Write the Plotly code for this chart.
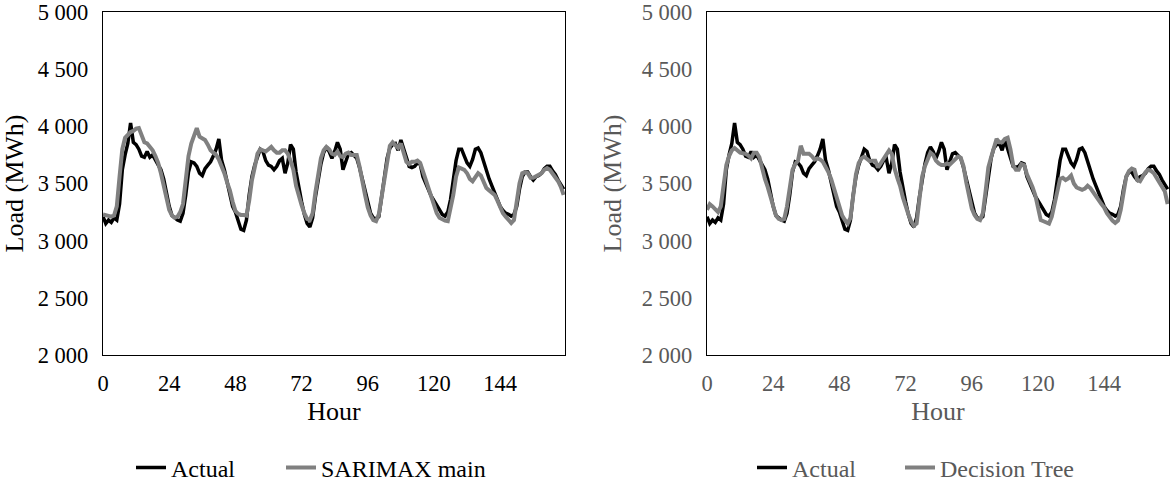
import plotly.graph_objects as go

hours = list(range(168))

actual = [
    3210, 3150, 3180, 3160, 3200, 3180, 3320, 3620, 3750, 3850,
    4030, 3860, 3840, 3800, 3740, 3730, 3780, 3730, 3750, 3710,
    3670, 3620, 3540, 3400, 3300, 3220, 3200, 3180, 3170, 3240,
    3400, 3600, 3690, 3680, 3650, 3590, 3570, 3630, 3660, 3690,
    3740, 3800, 3890, 3700, 3620, 3510, 3420, 3300, 3250, 3170,
    3100, 3090, 3180, 3400, 3560, 3660, 3740, 3800, 3780, 3700,
    3660, 3650, 3620, 3650, 3700, 3720, 3590, 3680, 3840, 3800,
    3600, 3450, 3340, 3230, 3150, 3120, 3200, 3380, 3540, 3670,
    3770, 3820, 3780, 3720, 3780, 3860, 3800, 3620, 3690, 3760,
    3770, 3740, 3720, 3640, 3540, 3440, 3320, 3240, 3200, 3190,
    3210, 3380, 3580, 3720, 3810, 3840, 3850, 3790, 3880, 3800,
    3720, 3650, 3640, 3650, 3680, 3670, 3560, 3500, 3450, 3390,
    3350, 3310, 3260, 3230, 3215, 3250, 3360, 3520, 3700, 3800,
    3800, 3740, 3680, 3650, 3710, 3800, 3810, 3770, 3690, 3610,
    3540, 3480, 3420, 3360, 3300, 3265, 3240, 3230, 3215, 3230,
    3300, 3450, 3560, 3600, 3600, 3560, 3530, 3560, 3570, 3590,
    3630, 3650, 3650, 3610, 3580, 3530, 3490, 3450,
]

sarimax_main = [
    3230, 3225, 3215, 3210, 3220, 3300, 3560, 3800, 3900, 3930,
    3950, 3960, 3980, 3985, 3920, 3860, 3850, 3820, 3790, 3740,
    3680, 3590, 3480, 3380, 3270, 3220, 3200, 3210, 3250, 3320,
    3540, 3740, 3850, 3910, 3985, 3910, 3890, 3880, 3840, 3790,
    3770, 3750, 3710, 3660, 3590, 3510, 3440, 3340, 3260, 3235,
    3225, 3225, 3220, 3350, 3530, 3640, 3760, 3800, 3790, 3780,
    3800, 3820, 3790, 3770, 3770, 3790, 3790, 3760, 3700, 3620,
    3480, 3380, 3310, 3240, 3190, 3180, 3240, 3420, 3590, 3720,
    3790, 3820, 3800, 3760, 3750, 3780, 3740, 3730, 3760, 3770,
    3750, 3750, 3750, 3650, 3500, 3400, 3290, 3220, 3180, 3170,
    3230, 3380, 3580, 3720, 3830, 3860, 3830, 3810, 3850, 3780,
    3690, 3670, 3690, 3690, 3700, 3680, 3610, 3540, 3460, 3380,
    3310, 3240, 3200, 3185, 3175, 3170, 3270, 3400, 3560, 3640,
    3630, 3620, 3590, 3540, 3520, 3560, 3590, 3570, 3520, 3460,
    3440, 3420, 3400, 3350, 3290, 3240, 3210, 3180, 3155, 3180,
    3330, 3500, 3590, 3600, 3590, 3550, 3550, 3565, 3575, 3590,
    3620, 3635, 3620, 3590, 3560, 3520, 3470, 3400,
]

decision_tree = [
    3270, 3320, 3300, 3270, 3250, 3300, 3520, 3660, 3740, 3790,
    3810, 3790, 3770, 3765, 3760, 3745, 3720, 3770, 3770, 3730,
    3630, 3540, 3470, 3380, 3290, 3220, 3190, 3180, 3190, 3300,
    3460, 3620, 3670, 3700, 3830, 3760, 3760, 3760, 3740, 3710,
    3720, 3710, 3690, 3650, 3600, 3540, 3460, 3370, 3280, 3220,
    3180, 3150, 3200, 3400, 3580, 3680, 3720, 3735, 3715, 3695,
    3700, 3700, 3640, 3680, 3715, 3750, 3790, 3760, 3630, 3550,
    3480, 3380, 3290, 3230, 3170, 3130, 3150, 3350, 3560, 3650,
    3720, 3770, 3750, 3700, 3675, 3662, 3662, 3675, 3665, 3690,
    3720, 3735, 3725, 3650, 3510, 3380, 3280, 3225, 3190, 3180,
    3240, 3430, 3640, 3730, 3820, 3890, 3860, 3860, 3890, 3900,
    3800, 3660, 3620, 3620, 3670, 3660, 3580, 3530, 3470, 3400,
    3280, 3180, 3170, 3160, 3150, 3210, 3330, 3450, 3540, 3550,
    3530, 3545, 3570, 3500, 3465, 3455, 3445, 3455, 3480, 3460,
    3420, 3390, 3355, 3320, 3290, 3240, 3200, 3175, 3155, 3175,
    3270, 3430, 3560, 3610, 3630, 3620, 3530, 3520, 3570, 3600,
    3620, 3610, 3590, 3550, 3520, 3480, 3430, 3320,
]

x_tick_values = [0, 24, 48, 72, 96, 120, 144]
y_tick_values = [2000, 2500, 3000, 3500, 4000, 4500, 5000]
y_tick_labels = [f"{v:,}".replace(",", " ") for v in y_tick_values]

assert len(actual) == len(sarimax_main) == len(decision_tree) == len(hours)

FONT = "Liberation Serif, Times New Roman, serif"
BLACK = "#000000"
GREY_LINE = "#808080"
GREY_TEXT = "#595959"

L, R, T, B = 103, 3, 12, 131
W, H = 1172, 486
pw = W - L - R
ph = H - T - B
d1 = (565 - L) / pw
d2 = (707 - L) / pw


def px_x(p):
    return (p - L) / pw


def px_y(p):
    return (H - B - p) / ph


fig = go.Figure()

series = [
    ("x", "y", "Actual", actual, BLACK, 3.5, "legend"),
    ("x", "y", "SARIMAX main", sarimax_main, GREY_LINE, 4, "legend3"),
    ("x2", "y2", "Actual", actual, BLACK, 3.5, "legend2"),
    ("x2", "y2", "Decision Tree", decision_tree, GREY_LINE, 4, "legend4"),
]
for xa, ya, name, vals, color, width, leg in series:
    fig.add_trace(go.Scatter(x=hours, y=vals, name=name, mode="lines",
                             line=dict(color=color, width=width), showlegend=True,
                             xaxis=xa, yaxis=ya, legend=leg))


def xax(domain, color, anchor):
    return dict(domain=domain, anchor=anchor, range=[0, 167.5],
                tickvals=x_tick_values, ticktext=[str(v) for v in x_tick_values],
                showgrid=False, zeroline=False, showline=True, linecolor=BLACK,
                linewidth=1.3, mirror=True, ticks="", ticklabelstandoff=8,
                ticklabeloverflow="allow",
                tickfont=dict(family=FONT, size=22.5, color=color),
                title=dict(text="Hour", font=dict(family=FONT, size=26, color=color),
                           standoff=6))


def yax(color, anchor):
    return dict(anchor=anchor, range=[2000, 5000], tickvals=y_tick_values,
                ticktext=y_tick_labels, showgrid=False, zeroline=False,
                showline=True, linecolor=BLACK, linewidth=1.3, mirror=True,
                ticks="", ticklabelstandoff=9, ticklabeloverflow="allow",
                tickfont=dict(family=FONT, size=22.5, color=color),
                title=dict(text="Load (MWh)", font=dict(family=FONT, size=26, color=color),
                           standoff=12))


def leg(xpx, color):
    return dict(orientation="h", x=px_x(xpx), xanchor="left", y=px_y(468), yanchor="middle",
                font=dict(family=FONT, size=24, color=color), bgcolor="rgba(0,0,0,0)")


fig.update_layout(
    width=W, height=H,
    margin=dict(l=L, r=R, t=T, b=B, autoexpand=False),
    paper_bgcolor="white", plot_bgcolor="white",
    showlegend=True,
    xaxis=xax([0, d1], BLACK, "y"),
    yaxis=yax(BLACK, "x"),
    xaxis2=xax([d2, 1], GREY_TEXT, "y2"),
    yaxis2=yax(GREY_TEXT, "x2"),
    legend=leg(131, BLACK),
    legend3=leg(281, BLACK),
    legend2=leg(752, GREY_TEXT),
    legend4=leg(900, GREY_TEXT),
)

fig.write_html("out.html", config={"displayModeBar": False},
               post_script="document.body.style.margin='0';")
